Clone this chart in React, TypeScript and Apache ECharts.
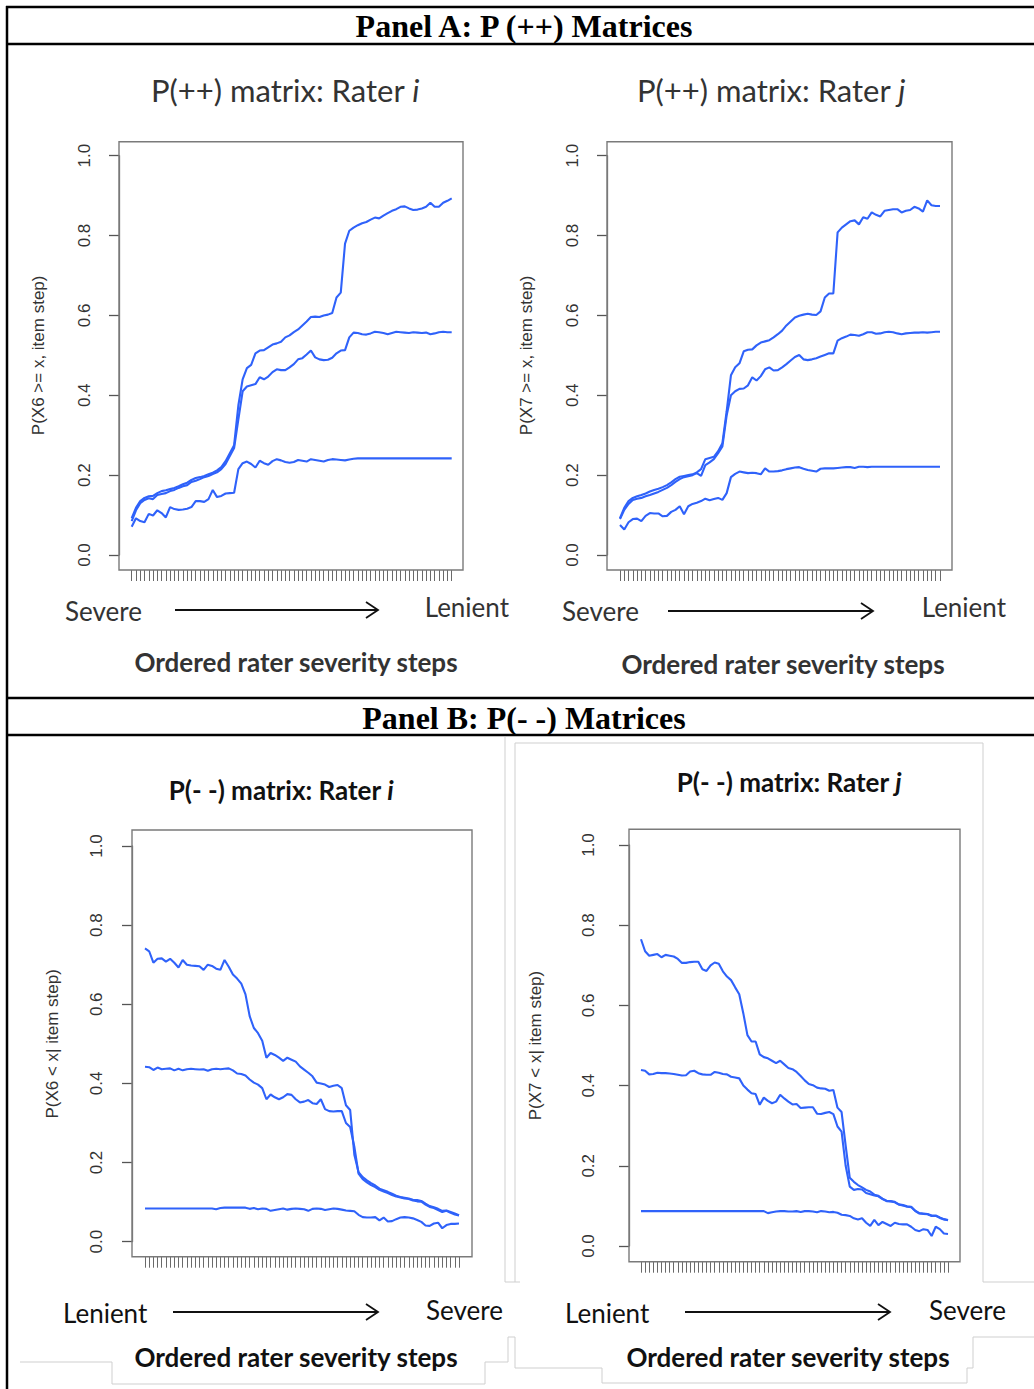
import React, { useEffect, useRef } from "react";
import * as echarts from "echarts";

// Ordered rater severity steps (76 steps per rater)
const STEPS: number[] = Array.from({ length: 76 }, (_, i) => i);
const Y_TICKS = ["0.0", "0.2", "0.4", "0.6", "0.8", "1.0"];

// P(++) matrix, rater i — cumulative probability by item step
const ppRaterI_high = [
  0.092, 0.118, 0.135, 0.143, 0.147, 0.148, 0.155, 0.16, 0.162, 0.165, 0.168, 0.172, 0.177, 0.181, 0.188, 0.193,
  0.195, 0.198, 0.202, 0.206, 0.212, 0.22, 0.235, 0.255, 0.275, 0.375, 0.44, 0.468, 0.476, 0.505, 0.512, 0.513,
  0.52, 0.527, 0.53, 0.534, 0.545, 0.55, 0.558, 0.565, 0.575, 0.585, 0.596, 0.597, 0.596, 0.6, 0.602, 0.606,
  0.645, 0.657, 0.78, 0.812, 0.82, 0.826, 0.831, 0.834, 0.84, 0.845, 0.843, 0.85, 0.856, 0.862, 0.866, 0.872,
  0.873, 0.868, 0.864, 0.865, 0.868, 0.872, 0.882, 0.872, 0.872, 0.882, 0.887, 0.893,
];
const ppRaterI_mid = [
  0.085, 0.112, 0.13, 0.138, 0.142, 0.14, 0.15, 0.153, 0.155, 0.16, 0.163, 0.168, 0.172, 0.175, 0.183, 0.186,
  0.19, 0.195, 0.198, 0.203, 0.207, 0.215, 0.228, 0.248, 0.268, 0.34, 0.41, 0.422, 0.425, 0.428, 0.445, 0.44,
  0.447, 0.458, 0.465, 0.463, 0.463, 0.47, 0.478, 0.49, 0.493, 0.502, 0.512, 0.495, 0.49, 0.488, 0.489, 0.494,
  0.505, 0.512, 0.513, 0.545, 0.557, 0.556, 0.553, 0.552, 0.555, 0.559, 0.558, 0.556, 0.553, 0.556, 0.559, 0.558,
  0.557, 0.556, 0.558, 0.557, 0.556, 0.557, 0.553, 0.555, 0.558, 0.559, 0.558, 0.558,
];
const ppRaterI_low = [
  0.071, 0.092, 0.085, 0.082, 0.103, 0.099, 0.112, 0.105, 0.094, 0.12, 0.115, 0.113, 0.114, 0.116, 0.12, 0.135,
  0.135, 0.133, 0.14, 0.163, 0.145, 0.148, 0.154, 0.155, 0.156, 0.215, 0.23, 0.234, 0.228, 0.219, 0.236, 0.23,
  0.226, 0.235, 0.24, 0.237, 0.233, 0.231, 0.233, 0.238, 0.236, 0.234, 0.24, 0.238, 0.236, 0.234, 0.238, 0.24,
  0.239, 0.238, 0.237, 0.239, 0.241, 0.242, 0.242, 0.242, 0.242, 0.242, 0.242, 0.242, 0.242, 0.242, 0.242, 0.242,
  0.242, 0.242, 0.242, 0.242, 0.242, 0.242, 0.242, 0.242, 0.242, 0.242, 0.242, 0.242,
];

// P(++) matrix, rater j
const ppRaterJ_high = [
  0.092, 0.118, 0.135, 0.143, 0.147, 0.15, 0.154, 0.159, 0.163, 0.166, 0.17, 0.175, 0.182, 0.19, 0.196, 0.198,
  0.2, 0.202, 0.207, 0.215, 0.24, 0.243, 0.246, 0.26, 0.28, 0.36, 0.45, 0.47, 0.48, 0.51, 0.514, 0.515,
  0.525, 0.532, 0.535, 0.538, 0.545, 0.553, 0.562, 0.575, 0.585, 0.595, 0.599, 0.602, 0.604, 0.602, 0.601, 0.61,
  0.645, 0.655, 0.655, 0.808, 0.82, 0.828, 0.836, 0.838, 0.828, 0.846, 0.842, 0.858, 0.852, 0.848, 0.862, 0.864,
  0.866, 0.866, 0.858, 0.862, 0.864, 0.872, 0.868, 0.86, 0.888, 0.876, 0.874, 0.874,
];
const ppRaterJ_mid = [
  0.09, 0.113, 0.128, 0.138, 0.141, 0.143, 0.147, 0.15, 0.154, 0.158, 0.163, 0.168, 0.175, 0.183, 0.19, 0.195,
  0.197, 0.2, 0.205, 0.198, 0.225, 0.232, 0.24, 0.255, 0.272, 0.35, 0.4, 0.41, 0.416, 0.417, 0.425, 0.445,
  0.437, 0.448, 0.465, 0.47, 0.462, 0.463, 0.47, 0.478, 0.487, 0.496, 0.501, 0.49, 0.488, 0.49, 0.493, 0.497,
  0.501, 0.505, 0.505, 0.537, 0.543, 0.547, 0.552, 0.551, 0.549, 0.553, 0.558, 0.558, 0.554, 0.555, 0.558, 0.559,
  0.558, 0.555, 0.553, 0.555, 0.556, 0.557, 0.557, 0.558, 0.557, 0.558, 0.559, 0.559,
];
const ppRaterJ_low = [
  0.075, 0.064, 0.082, 0.09, 0.091, 0.085, 0.098, 0.105, 0.104, 0.104, 0.097, 0.098, 0.108, 0.113, 0.122, 0.102,
  0.122, 0.128, 0.131, 0.135, 0.141, 0.137, 0.14, 0.143, 0.138, 0.155, 0.195, 0.203, 0.209, 0.207, 0.205, 0.206,
  0.205, 0.202, 0.217, 0.209, 0.209, 0.21, 0.212, 0.215, 0.217, 0.219, 0.22, 0.216, 0.213, 0.211, 0.209, 0.216,
  0.217, 0.217, 0.217, 0.218, 0.219, 0.22, 0.22, 0.218, 0.221, 0.221, 0.22, 0.221, 0.221, 0.221, 0.221, 0.221,
  0.221, 0.221, 0.221, 0.221, 0.221, 0.221, 0.221, 0.221, 0.221, 0.221, 0.221, 0.221,
];

// P(- -) matrix, rater i
const mmRaterI_high = [
  0.741, 0.734, 0.705, 0.715, 0.716, 0.708, 0.715, 0.705, 0.693, 0.712, 0.7, 0.698, 0.697, 0.696, 0.687, 0.7,
  0.697, 0.69, 0.687, 0.712, 0.695, 0.675, 0.665, 0.652, 0.625, 0.57, 0.54, 0.527, 0.508, 0.465, 0.477, 0.472,
  0.465, 0.457, 0.465, 0.46, 0.455, 0.443, 0.435, 0.427, 0.418, 0.402, 0.4, 0.397, 0.391, 0.394, 0.396, 0.388,
  0.345, 0.333, 0.22, 0.176, 0.163, 0.155, 0.148, 0.142, 0.134, 0.13, 0.126, 0.121, 0.116, 0.113, 0.111, 0.109,
  0.106, 0.105, 0.103, 0.096, 0.09, 0.087, 0.083, 0.078, 0.079, 0.075, 0.071, 0.067,
];
const mmRaterI_mid = [
  0.442, 0.441, 0.434, 0.44, 0.436, 0.437, 0.438, 0.433, 0.437, 0.433, 0.436, 0.437, 0.436, 0.435, 0.436, 0.432,
  0.436, 0.437, 0.436, 0.437, 0.438, 0.433, 0.425, 0.424, 0.42, 0.41, 0.402, 0.397, 0.388, 0.36, 0.372, 0.365,
  0.36, 0.365, 0.373, 0.371, 0.36, 0.352, 0.354, 0.358, 0.35, 0.348, 0.36, 0.335, 0.33, 0.329, 0.33, 0.33,
  0.3, 0.29, 0.24, 0.172, 0.158, 0.15, 0.143, 0.138, 0.131, 0.127, 0.123, 0.118, 0.114, 0.112, 0.109, 0.108,
  0.104, 0.102, 0.101, 0.094, 0.088, 0.085, 0.08, 0.075, 0.078, 0.073, 0.069, 0.066,
];
const mmRaterI_low = [
  0.084, 0.084, 0.084, 0.084, 0.084, 0.084, 0.084, 0.084, 0.084, 0.084, 0.084, 0.084, 0.084, 0.084, 0.084, 0.084,
  0.084, 0.082, 0.085, 0.086, 0.086, 0.086, 0.086, 0.086, 0.086, 0.083, 0.085, 0.082, 0.084, 0.083, 0.078, 0.08,
  0.082, 0.084, 0.081, 0.083, 0.084, 0.083, 0.082, 0.078, 0.083, 0.084, 0.083, 0.08, 0.082, 0.084, 0.083, 0.081,
  0.079, 0.078, 0.077, 0.068, 0.062, 0.061, 0.061, 0.062, 0.054, 0.061, 0.051, 0.052, 0.057, 0.061, 0.062, 0.061,
  0.059, 0.055, 0.05, 0.041, 0.04, 0.046, 0.048, 0.034, 0.042, 0.045, 0.045, 0.046,
];

// P(- -) matrix, rater j
const mmRaterJ_high = [
  0.765, 0.735, 0.724, 0.726, 0.728, 0.72, 0.726, 0.724, 0.722, 0.716, 0.706, 0.706, 0.708, 0.709, 0.709, 0.69,
  0.686, 0.7, 0.707, 0.704, 0.685, 0.672, 0.663, 0.645, 0.628, 0.58, 0.526, 0.51, 0.51, 0.478, 0.471, 0.468,
  0.462, 0.456, 0.462, 0.453, 0.444, 0.441, 0.434, 0.424, 0.413, 0.404, 0.401, 0.395, 0.393, 0.392, 0.387, 0.389,
  0.345, 0.334, 0.25, 0.17, 0.16, 0.152, 0.146, 0.14, 0.136, 0.128, 0.125, 0.118, 0.113, 0.112, 0.11, 0.104,
  0.102, 0.099, 0.098, 0.088, 0.082, 0.081, 0.08, 0.076, 0.076, 0.071, 0.067, 0.065,
];
const mmRaterJ_mid = [
  0.439, 0.437, 0.428, 0.429, 0.432, 0.431, 0.431, 0.43, 0.429, 0.427, 0.425, 0.426, 0.435, 0.437, 0.431, 0.428,
  0.427, 0.427, 0.434, 0.432, 0.429, 0.428, 0.422, 0.42, 0.418, 0.4, 0.39, 0.381, 0.379, 0.352, 0.37, 0.362,
  0.356, 0.36, 0.377, 0.368, 0.36, 0.353, 0.354, 0.344, 0.345, 0.346, 0.346, 0.33, 0.329, 0.332, 0.334, 0.329,
  0.298, 0.285, 0.2, 0.148, 0.14, 0.142, 0.141, 0.132, 0.129, 0.126, 0.124, 0.117, 0.112, 0.111, 0.109, 0.103,
  0.101, 0.098, 0.097, 0.087, 0.081, 0.08, 0.079, 0.075, 0.075, 0.07, 0.066, 0.064,
];
const mmRaterJ_low = [
  0.087, 0.087, 0.087, 0.087, 0.087, 0.087, 0.087, 0.087, 0.087, 0.087, 0.087, 0.087, 0.087, 0.087, 0.087, 0.087,
  0.087, 0.087, 0.087, 0.087, 0.087, 0.087, 0.087, 0.087, 0.087, 0.087, 0.087, 0.087, 0.087, 0.087, 0.087, 0.082,
  0.084, 0.086, 0.087, 0.087, 0.086, 0.086, 0.087, 0.085, 0.087, 0.087, 0.086, 0.084, 0.087, 0.086, 0.084, 0.085,
  0.083, 0.078, 0.077, 0.075, 0.069, 0.066, 0.069, 0.058, 0.05, 0.065, 0.052, 0.06, 0.055, 0.05, 0.058, 0.055,
  0.054, 0.054, 0.048, 0.04, 0.037, 0.042, 0.04, 0.025, 0.048, 0.042, 0.031, 0.03,
];

// Layout of the four plot panels (pixel geometry of the page)
const PANELS = [
  { grid: { left: 131.7, top: 155.7, width: 320, height: 399.3 }, box: [119, 141.7, 344, 428.3], xOff: 15, yOff: 12.7,
    labelMargin: 26, nameGap: 72, yName: "P(X6 >= x, item step)", lines: [ppRaterI_high, ppRaterI_mid, ppRaterI_low] },
  { grid: { left: 620, top: 155.7, width: 320, height: 399.3 }, box: [607, 141.7, 345, 428.3], xOff: 15, yOff: 13,
    labelMargin: 26, nameGap: 72, yName: "P(X7 >= x, item step)", lines: [ppRaterJ_high, ppRaterJ_mid, ppRaterJ_low] },
  { grid: { left: 145, top: 846, width: 314, height: 395.7 }, box: [132, 830, 340, 426.7], xOff: 15, yOff: 13,
    labelMargin: 27, nameGap: 71, yName: "P(X6 < x| item step)", lines: [mmRaterI_high, mmRaterI_mid, mmRaterI_low] },
  { grid: { left: 641, top: 845, width: 307, height: 401 }, box: [629, 829.3, 331, 432.4], xOff: 15.7, yOff: 12,
    labelMargin: 32, nameGap: 85, yName: "P(X7 < x| item step)", lines: [mmRaterJ_high, mmRaterJ_mid, mmRaterJ_low] },
];

const LINE_BLUE = "#2f62fa";
const AXIS_GREY = "#7a7a7a";
const R_FONT = "Liberation Sans, Arial, sans-serif";
const CAL_FONT = "Lato, 'Open Sans', sans-serif";
const HEAD_FONT = "'Liberation Serif', 'Times New Roman', serif";

function arrow(x1: number, x2: number, y: number) {
  return [
    { type: "line", shape: { x1, y1: y, x2, y2: y }, style: { stroke: "#111", lineWidth: 1.8 } },
    { type: "polyline", shape: { points: [[x2 - 12, y - 8], [x2, y], [x2 - 12, y + 8]] },
      style: { stroke: "#111", lineWidth: 1.8, fill: "none" } },
  ];
}

function label(text: string, x: number, y: number, font: string, color: string, align = "center") {
  return {
    type: "text", x, y,
    style: { text, font, fill: color, align, verticalAlign: "middle", textAlign: align, textVerticalAlign: "middle" },
  };
}

function richTitle(main: string, who: string, x: number, y: number, size: number, weight: string, color: string) {
  return {
    type: "text", x, y,
    style: {
      text: `{m|${main}}{it|${who}}`,
      align: "center", verticalAlign: "middle", textAlign: "center", textVerticalAlign: "middle",
      rich: {
        m: { fontFamily: CAL_FONT, fontSize: size, fontWeight: weight, fill: color, color },
        it: { fontFamily: CAL_FONT, fontSize: size, fontWeight: weight, fontStyle: "italic", fill: color, color },
      },
    },
  };
}

export default function App() {
  const ref = useRef<HTMLDivElement>(null);

  useEffect(() => {
    if (!ref.current) return;
    const chart = echarts.init(ref.current, undefined, { renderer: "svg" });

    const grids = PANELS.map((p) => ({ ...p.grid, containLabel: false }));
    const xAxes = PANELS.map((p, i) => ({
      type: "value", gridIndex: i, min: 0, max: STEPS.length - 1, interval: 1,
      position: "bottom", offset: p.xOff,
      axisLine: { show: false, onZero: false },
      axisTick: { show: true, length: 11, lineStyle: { color: "#6a6a6a", width: 1 } },
      axisLabel: { show: false },
      splitLine: { show: false },
    }));
    const yAxes = PANELS.map((p, i) => ({
      type: "value", gridIndex: i, min: 0, max: 1, interval: 0.2,
      position: "left", offset: p.yOff,
      name: p.yName, nameLocation: "middle", nameRotate: 90, nameGap: p.nameGap,
      nameTextStyle: { fontFamily: R_FONT, fontSize: 17, color: "#333" },
      axisLine: { show: true, onZero: false, lineStyle: { color: AXIS_GREY, width: 1.3 } },
      axisTick: { show: true, length: 10, lineStyle: { color: "#555", width: 1.3 } },
      axisLabel: {
        rotate: 90, margin: p.labelMargin, fontFamily: R_FONT, fontSize: 17, color: "#333",
        formatter: (v: number) => Y_TICKS[Math.round(v * 5)] ?? "",
      },
      splitLine: { show: false },
    }));
    const series: any[] = [];
    PANELS.forEach((p, i) => {
      p.lines.forEach((vals) => {
        series.push({
          type: "line", xAxisIndex: i, yAxisIndex: i, showSymbol: false, symbol: "none",
          data: vals.map((v, k) => [STEPS[k], v]),
          lineStyle: { color: LINE_BLUE, width: 2.1 }, silent: true,
        });
      });
    });

    const frame = { stroke: "#000", lineWidth: 2.5 };
    const faint = { stroke: "#cfcfcf", lineWidth: 1, fill: "none" };
    const graphic: any[] = [
      // outer table rules
      { type: "line", shape: { x1: 6, y1: 7, x2: 1034, y2: 7 }, style: frame },
      { type: "line", shape: { x1: 6, y1: 44, x2: 1034, y2: 44 }, style: frame },
      { type: "line", shape: { x1: 6, y1: 698, x2: 1034, y2: 698 }, style: frame },
      { type: "line", shape: { x1: 6, y1: 735, x2: 1034, y2: 735 }, style: frame },
      { type: "line", shape: { x1: 7, y1: 6, x2: 7, y2: 1389 }, style: frame },
      // outlines of the pasted lower figures
      { type: "polyline", shape: { points: [[505, 737], [505, 1282], [520, 1282]] }, style: faint },
      { type: "polyline", shape: { points: [[515, 1282], [515, 743], [983, 743], [983, 1282], [1034, 1282]] }, style: faint },
      { type: "polyline", shape: { points: [[20, 1362], [112, 1362], [112, 1384], [485, 1384], [485, 1362], [508, 1362], [508, 1337], [515, 1337], [515, 1368], [602, 1368], [602, 1383], [967, 1383], [967, 1368], [973, 1368], [973, 1337], [1034, 1337]] }, style: faint },
      // panel headers
      label("Panel A: P (++) Matrices", 524, 26, `bold 32px ${HEAD_FONT}`, "#000"),
      label("Panel B: P(- -) Matrices", 524, 718, `bold 32px ${HEAD_FONT}`, "#000"),
      // plot titles
      richTitle("P(++) matrix: Rater ", "i", 285, 90, 31, "normal", "#333"),
      richTitle("P(++) matrix: Rater ", "j", 771, 90, 31, "normal", "#333"),
      richTitle("P(- -) matrix: Rater ", "i", 281, 790, 26, "bold", "#111"),
      richTitle("P(- -) matrix: Rater ", "j", 789, 782, 26, "bold", "#111"),
      // direction captions under each panel
      label("Severe", 65, 611, `26px ${CAL_FONT}`, "#333", "left"),
      label("Lenient", 509, 607, `26px ${CAL_FONT}`, "#333", "right"),
      ...arrow(175, 378, 610),
      label("Ordered rater severity steps", 296, 662, `bold 26px ${CAL_FONT}`, "#333"),
      label("Severe", 562, 611, `26px ${CAL_FONT}`, "#333", "left"),
      label("Lenient", 1006, 607, `26px ${CAL_FONT}`, "#333", "right"),
      ...arrow(668, 873, 611),
      label("Ordered rater severity steps", 783, 664, `bold 26px ${CAL_FONT}`, "#333"),
      label("Lenient", 63, 1313, `26px ${CAL_FONT}`, "#111", "left"),
      label("Severe", 503, 1310, `26px ${CAL_FONT}`, "#111", "right"),
      ...arrow(173, 378, 1312),
      label("Ordered rater severity steps", 296, 1357, `bold 26px ${CAL_FONT}`, "#111"),
      label("Lenient", 565, 1313, `26px ${CAL_FONT}`, "#111", "left"),
      label("Severe", 1006, 1310, `26px ${CAL_FONT}`, "#111", "right"),
      ...arrow(685, 890, 1312),
      label("Ordered rater severity steps", 788, 1357, `bold 26px ${CAL_FONT}`, "#111"),
      // plot boxes
      ...PANELS.map((p) => ({
        type: "rect",
        shape: { x: p.box[0], y: p.box[1], width: p.box[2], height: p.box[3] },
        style: { fill: "none", stroke: AXIS_GREY, lineWidth: 1.4 },
        z: 10,
      })),
    ];

    chart.setOption({
      animation: false,
      backgroundColor: "#fff",
      grid: grids,
      xAxis: xAxes,
      yAxis: yAxes,
      series,
      graphic,
    });

    return () => chart.dispose();
  }, []);

  return (
    <div
      ref={ref}
      style={{ position: "absolute", left: 0, top: 0, width: 1034, height: 1389, background: "#fff" }}
    />
  );
}
